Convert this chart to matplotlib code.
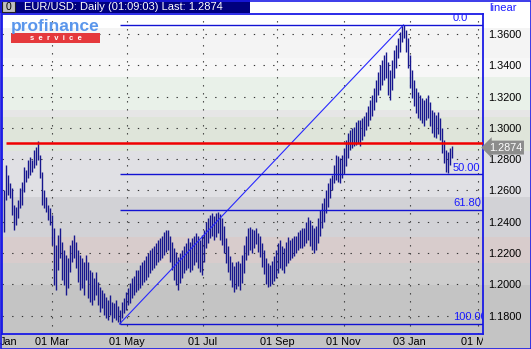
import numpy as np
import matplotlib
matplotlib.use("Agg")
import matplotlib.pyplot as plt
from matplotlib.patches import Rectangle
from matplotlib import transforms

plt.rcParams['font.family'] = ['Liberation Sans', 'DejaVu Sans']

W, H, DPI = 531, 349, 100
PXB = 2.0   # pixels from one bar to the next

# daily bars, EUR/USD
highs = [1.2603, 1.2762, 1.2698, 1.2647, 1.2615, 1.2507, 1.2494, 1.2539, 1.2615, 1.2654,
         1.2749, 1.2730, 1.2794, 1.2813, 1.2794, 1.2858, 1.2877, 1.2916, 1.2826, 1.2718,
         1.2603, 1.2558, 1.2507, 1.2488, 1.2443, 1.2360, 1.2251, 1.2315, 1.2360, 1.2270,
         1.2219, 1.2187, 1.2168, 1.2251, 1.2283, 1.2315, 1.2270, 1.2219, 1.2187, 1.2168,
         1.2142, 1.2187, 1.2142, 1.2091, 1.2078, 1.2040, 1.2078, 1.2014, 1.1982, 1.1963,
         1.1944, 1.1918, 1.1899, 1.1931, 1.1886, 1.1880, 1.1899, 1.1861, 1.1835, 1.1886,
         1.1912, 1.1950, 1.1976, 1.2008, 1.2040, 1.2053, 1.2091, 1.2091, 1.2123, 1.2142,
         1.2155, 1.2181, 1.2200, 1.2219, 1.2232, 1.2245, 1.2264, 1.2283, 1.2296, 1.2309,
         1.2334, 1.2347, 1.2347, 1.2309, 1.2270, 1.2232, 1.2206, 1.2174, 1.2200, 1.2219,
         1.2245, 1.2264, 1.2296, 1.2270, 1.2296, 1.2309, 1.2328, 1.2309, 1.2283, 1.2315,
         1.2347, 1.2398, 1.2424, 1.2443, 1.2456, 1.2437, 1.2456, 1.2462, 1.2449, 1.2424,
         1.2373, 1.2296, 1.2245, 1.2181, 1.2142, 1.2117, 1.2142, 1.2149, 1.2136, 1.2187,
         1.2251, 1.2309, 1.2360, 1.2366, 1.2353, 1.2347, 1.2360, 1.2328, 1.2309, 1.2264,
         1.2219, 1.2168, 1.2136, 1.2123, 1.2149, 1.2181, 1.2219, 1.2264, 1.2283, 1.2245,
         1.2232, 1.2270, 1.2302, 1.2283, 1.2296, 1.2309, 1.2309, 1.2334, 1.2347, 1.2360,
         1.2360, 1.2398, 1.2430, 1.2411, 1.2379, 1.2360, 1.2373, 1.2424, 1.2475, 1.2519,
         1.2551, 1.2603, 1.2647, 1.2679, 1.2698, 1.2762, 1.2826, 1.2820, 1.2807, 1.2826,
         1.2871, 1.2922, 1.2967, 1.2986, 1.2999, 1.3005, 1.3037, 1.3050, 1.3050, 1.3063,
         1.3076, 1.3101, 1.3140, 1.3178, 1.3210, 1.3255, 1.3306, 1.3357, 1.3402, 1.3434,
         1.3466, 1.3485, 1.3421, 1.3370, 1.3434, 1.3498, 1.3530, 1.3574, 1.3613, 1.3651,
         1.3658, 1.3626, 1.3574, 1.3466, 1.3370, 1.3306, 1.3255, 1.3229, 1.3210, 1.3191,
         1.3178, 1.3191, 1.3210, 1.3165, 1.3114, 1.3101, 1.3082, 1.3101, 1.3063, 1.2999,
         1.2922, 1.2858, 1.2846, 1.2871, 1.2884]
lows = [1.2334, 1.2539, 1.2571, 1.2551, 1.2443, 1.2347, 1.2379, 1.2424, 1.2488, 1.2507,
        1.2590, 1.2654, 1.2679, 1.2698, 1.2718, 1.2743, 1.2762, 1.2794, 1.2679, 1.2507,
        1.2488, 1.2462, 1.2411, 1.2379, 1.2251, 1.1995, 1.1963, 1.2091, 1.2168, 1.2027,
        1.1995, 1.1931, 1.1976, 1.2078, 1.2142, 1.2168, 1.2104, 1.2014, 1.1963, 1.1976,
        1.1931, 1.2027, 1.1912, 1.1886, 1.1867, 1.1899, 1.1931, 1.1867, 1.1822, 1.1848,
        1.1803, 1.1784, 1.1771, 1.1803, 1.1758, 1.1784, 1.1771, 1.1758, 1.1746, 1.1784,
        1.1816, 1.1835, 1.1867, 1.1880, 1.1912, 1.1931, 1.1950, 1.1963, 1.1976, 1.1995,
        1.2014, 1.2027, 1.2046, 1.2072, 1.2091, 1.2104, 1.2123, 1.2142, 1.2155, 1.2168,
        1.2187, 1.2206, 1.2219, 1.2142, 1.2091, 1.2027, 1.1995, 1.1963, 1.2008, 1.2040,
        1.2072, 1.2091, 1.2104, 1.2078, 1.2091, 1.2123, 1.2142, 1.2104, 1.2078, 1.2059,
        1.2142, 1.2232, 1.2264, 1.2296, 1.2309, 1.2283, 1.2302, 1.2328, 1.2283, 1.2251,
        1.2200, 1.2136, 1.2078, 1.2027, 1.1982, 1.1950, 1.1969, 1.1989, 1.1963, 1.2008,
        1.2072, 1.2155, 1.2187, 1.2219, 1.2200, 1.2232, 1.2257, 1.2206, 1.2174, 1.2110,
        1.2065, 1.2001, 1.1982, 1.1989, 1.2001, 1.2021, 1.2040, 1.2072, 1.2104, 1.2091,
        1.2072, 1.2117, 1.2136, 1.2155, 1.2168, 1.2181, 1.2200, 1.2219, 1.2232, 1.2232,
        1.2245, 1.2264, 1.2283, 1.2245, 1.2219, 1.2200, 1.2219, 1.2264, 1.2309, 1.2360,
        1.2398, 1.2456, 1.2494, 1.2551, 1.2603, 1.2647, 1.2666, 1.2654, 1.2647, 1.2679,
        1.2711, 1.2756, 1.2807, 1.2858, 1.2871, 1.2884, 1.2890, 1.2903, 1.2884, 1.2922,
        1.2948, 1.2986, 1.3012, 1.3050, 1.3076, 1.3114, 1.3165, 1.3210, 1.3242, 1.3274,
        1.3306, 1.3319, 1.3210, 1.3178, 1.3242, 1.3319, 1.3383, 1.3447, 1.3485, 1.3549,
        1.3574, 1.3485, 1.3383, 1.3255, 1.3191, 1.3140, 1.3095, 1.3063, 1.3050, 1.3031,
        1.3012, 1.3050, 1.3063, 1.3012, 1.2967, 1.2941, 1.2935, 1.2960, 1.2922, 1.2839,
        1.2775, 1.2718, 1.2711, 1.2762, 1.2807]

last_price = 1.2874
level_price = 1.2903
price_ticks = [1.18, 1.20, 1.22, 1.24, 1.26, 1.28, 1.30, 1.32, 1.34, 1.36]
fib_ratios = [0.0, 0.5, 0.618, 1.0]
fib_labels = ["0.0", "50.00", "61.80", "100.00"]
# bar index of each date label
date_ticks = [2.5, 24.15, 61.9, 99.5, 136.75, 170.1, 203.1, 237.0]
date_labels = ["Jan", "01 Mar", "01 May", "01 Jul", "01 Sep", "01 Nov", "03 Jan", "01 Mar"]

band_tops = [1.3728, 1.3638, 1.3447, 1.3325, 1.3114, 1.3069, 1.2852, 1.2558, 1.2302, 1.2136, 1.1995]
band_colors = ['#ffffff', '#f4f4f4', '#f7f7f7', '#e9f1e9', '#e6e6e6', '#dfe5da',
               '#e0e0e4', '#d2d2d6', '#d8cccc', '#cdcdcd', '#c4c4c4']
Y_LO, Y_HI = 1.1682, 1.3728

FRAME = '#1a1ae6'
FIB = '#1212d2'
BARC = '#16168e'


def box(x0, y0, x1, y1):
    return [x0 / W, 1 - y1 / H, (x1 - x0) / W, (y1 - y0) / H]


def idx(px):
    # bar index of a pixel column (bars sit on pixel centres)
    return (px - 3.5) / PXB


fig = plt.figure(figsize=(W / DPI, H / DPI), dpi=DPI)
fig.patch.set_facecolor('white')

# background bands over the full width
bg = fig.add_axes(box(0, 14, W, 334))
bg.set_xlim(0, 1)
bg.set_ylim(Y_LO, Y_HI)
bg.axis('off')
bottoms = band_tops[1:] + [Y_LO]
for top, bot, c in zip(band_tops, bottoms, band_colors):
    bg.axhspan(bot, top, color=c, lw=0)

# bottom strip
strip = fig.add_axes(box(0, 334, W, H))
strip.set_facecolor('#c4c4c4')
strip.set_xticks([])
strip.set_yticks([])
for s in strip.spines.values():
    s.set_visible(False)

ax = fig.add_axes(box(2, 14, 483, 334))
ax.set_facecolor('none')
ax.set_xlim(idx(2), idx(483))
ax.set_ylim(Y_LO, Y_HI)
for s in ax.spines.values():
    s.set_color(FRAME)
    s.set_linewidth(1.3)

ax.yaxis.tick_right()
ax.set_yticks(price_ticks)
ax.set_yticklabels(['%.4f' % p for p in price_ticks], fontsize=7.8)
ax.tick_params(axis='y', length=0, pad=3.6)
ax.set_xticks([])

# dotted grid
for p in price_ticks:
    ax.axhline(p, color='#333333', lw=0.8, dashes=(1.2, 7.5), zorder=1)
for t in date_ticks[1:]:
    ax.axvline(t, color='#333333', lw=0.8, dashes=(1.2, 6.0), zorder=1)

x = np.arange(len(highs))
ax.vlines(x, lows, highs, color=BARC, lw=1.0, zorder=3)

# fibonacci retracement
hi = max(highs)
lo = min(lows)
i_hi = int(np.argmax(highs))
i_lo = int(np.argmin(lows))
x_end = idx(483)
ax.plot([i_lo, i_hi], [lo, hi], color='#2828ff', lw=0.8, zorder=4)
lab_tr = transforms.offset_copy(ax.get_yaxis_transform(), fig=fig, y=1.2, units='points')
for r, lab in zip(fib_ratios, fib_labels):
    lvl = hi - r * (hi - lo)
    ax.hlines(lvl, i_lo, x_end, color=FIB, lw=1.0, zorder=4)
    ax.text((453 - 2) / 481, lvl, lab, transform=lab_tr, ha='left', va='bottom',
            color='#1a1aff', fontsize=8, clip_on=True, zorder=5)

# horizontal level
ax.hlines(level_price, 1, x_end, color='#f00000', lw=1.8, zorder=4)

# last price tag
ax.text(1.012, last_price, '%.4f' % last_price, transform=ax.get_yaxis_transform(),
        ha='left', va='center', color='white', fontsize=7.8, clip_on=False,
        bbox=dict(boxstyle='larrow,pad=0.18', fc='#8c8c8c', ec='none'), zorder=6)

# date labels
lax = fig.add_axes(box(0, 334, 483, H))
lax.set_facecolor('none')
lax.axis('off')
lax.set_xlim(idx(0), idx(483))
lax.set_ylim(0, 1)
for t, lab in zip(date_ticks, date_labels):
    lax.text(t, 0.45, lab, ha='center', va='center', fontsize=7.8, clip_on=True)

# title bar
fig.patches.append(Rectangle((0, 1 - 13 / H), 250 / W, 13 / H, transform=fig.transFigure,
                             fc='#00007e', ec='none'))
fig.patches.append(Rectangle((2 / W, 1 - 12 / H), 13 / W, 11 / H, transform=fig.transFigure,
                             fc='#c0c0c0', ec='#202020', lw=0.8))
fig.text(8.5 / W, 1 - 6.5 / H, '0', ha='center', va='center', fontsize=7.5, color='black')
fig.text(24 / W, 1 - 6.5 / H, 'EUR/USD: Daily (01:09:03) Last: %.4f' % last_price,
         ha='left', va='center', fontsize=8, color='white')
fig.text(489 / W, 1 - 8 / H, 'linear', ha='left', va='center', fontsize=8, color='#1a1aff')

# logo
fig.text(11 / W, 1 - 31 / H, 'profinance', ha='left', va='baseline', fontsize=12.5,
         fontweight='bold', color='#5a96ec')
fig.patches.append(Rectangle((11 / W, 1 - 43 / H), 89 / W, 10 / H, transform=fig.transFigure,
                             fc='#e5393c', ec='none'))
fig.text(55.5 / W, 1 - 38.6 / H, 's  e  r  v  i  c  e', ha='center', va='center',
         fontsize=5.5, fontweight='bold', color='white')

# outer border
fig.patches.append(Rectangle((0.5 / W, 0.5 / H), (W - 1) / W, (H - 1) / H,
                             transform=fig.transFigure, fc='none', ec=FRAME, lw=1.2))

fig.savefig('out.png', dpi=DPI)
